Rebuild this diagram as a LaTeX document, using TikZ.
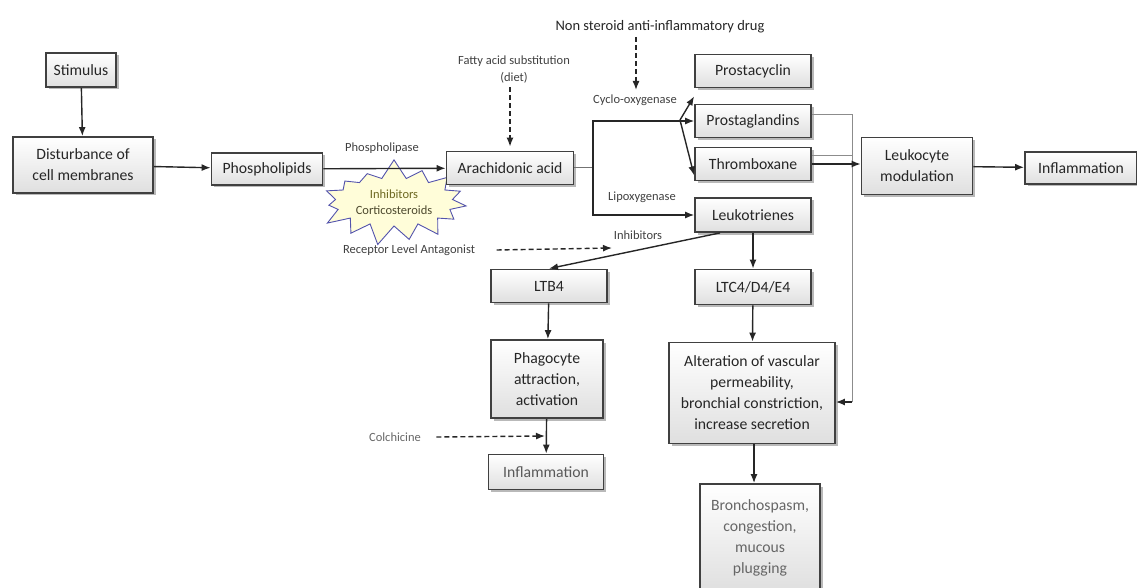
\documentclass[tikz,border=0pt]{standalone}
\usepackage{fontspec}
\setmainfont{Carlito}
\usetikzlibrary{arrows.meta,shadows,shapes.symbols}

\tikzset{
    box/.style={draw=black!75, line width=1.8pt, top color=white, bottom color=gray!25,
        drop shadow={shadow xshift=2.5pt, shadow yshift=-2.5pt, fill=black!55},
        align=center, inner sep=2pt, text=black!85, font=\fontsize{15.7}{21}\selectfont},
    lbl/.style={font=\fontsize{12.5}{17}\selectfont, text=black!75, align=center},
    arr/.style={-{Latex[length=9pt,width=7pt]}, line width=1.4pt, black!85},
    darr/.style={-{Latex[length=9pt,width=7pt]}, line width=1.4pt, dash pattern=on 5pt off 3pt, black!85},
    gline/.style={line width=1pt, black!45}
}

\begin{document}
\begin{tikzpicture}[x=1pt,y=1pt]
    \useasboundingbox (0,0) rectangle (1137,-588);

    % inhibitor star
    \node[starburst, draw=blue!35!gray, fill=yellow!15, line width=0.9pt,
          minimum width=126pt, minimum height=88pt, starburst point height=20pt,
          starburst points=15, random starburst=7,
          align=center, font=\fontsize{12.5}{16}\selectfont] (star) at (394,-202)
          {\textcolor{olive!70!black}{Inhibitors}\\\textcolor{olive!40!black}{Corticosteroids}};

    \node[box, minimum width=70pt, minimum height=34pt] (stim) at (81,-70) {Stimulus};
    \node[box, minimum width=140pt, minimum height=56pt] (dist) at (83,-165) {Disturbance of\\cell membranes};
    \node[box, minimum width=111pt, minimum height=32pt] (phos) at (267,-169) {Phospholipids};
    \node[box, minimum width=127pt, minimum height=33pt] (arach) at (510,-168) {Arachidonic acid};

    \node[box, minimum width=116pt, minimum height=33pt] (pcyc) at (753,-71) {Prostacyclin};
    \node[box, minimum width=116pt, minimum height=33pt] (pgl) at (753,-121) {Prostaglandins};
    \node[box, minimum width=116pt, minimum height=33pt] (tbx) at (753,-164) {Thromboxane};
    \node[box, minimum width=116pt, minimum height=34pt] (leuk) at (753,-215) {Leukotrienes};

    \node[box, minimum width=111pt, minimum height=57pt] (leukmod) at (917,-166) {Leukocyte\\modulation};
    \node[box, minimum width=112pt, minimum height=32pt] (infl) at (1081,-168) {Inflammation};

    \node[box, minimum width=116pt, minimum height=33pt] (ltb) at (549,-286) {LTB4};
    \node[box, minimum width=116pt, minimum height=35pt] (ltc) at (753,-287) {LTC4/D4/E4};
    \node[box, minimum width=112pt, minimum height=78pt] (phago) at (547,-379) {Phagocyte\\attraction,\\activation};
    \node[box, minimum width=115pt, minimum height=35pt, text=black!65] (infltwo) at (546,-472) {Inflammation};
    \node[box, minimum width=166pt, minimum height=101pt] (alter) at (752,-393) {Alteration of vascular\\permeability,\\bronchial constriction,\\increase secretion};
    \node[box, minimum width=120pt, minimum height=108pt, text=black!60] (broncho) at (760,-538) {Bronchospasm,\\congestion,\\mucous\\plugging};

    % labels
    \node[lbl] (plase) at (382,-148) {Phospholipase};
    \node[lbl] (diet) at (514,-70) {Fatty acid substitution\\(diet)};
    \node[font=\fontsize{14.5}{17}\selectfont, text=black!85] (nsaid) at (660,-27) {Non steroid anti-inflammatory drug};
    \node[lbl] (cox) at (635,-100) {Cyclo-oxygenase};
    \node[lbl] (lox) at (642,-197) {Lipoxygenase};
    \node[lbl] (inhib) at (638,-235) {Inhibitors};
    \node[lbl] (rla) at (409,-250) {Receptor Level Antagonist};
    \node[lbl, text=black!60] (colch) at (395,-437) {Colchicine};

    \coordinate (split) at (593,-168);
    \coordinate (branch) at (680,-120);
    \coordinate (coxin) at (636,-90);
    \coordinate (rlain) at (612,-248);
    \coordinate (colchin) at (545,-436);
    \coordinate (gcorner) at (852,-402);

    % main chain
    \draw[arr] (stim) -- (dist);
    \draw[arr] (dist) -- (phos);
    \draw[arr] (phos) -- (arach);
    \draw[darr] (diet.south -| arach.north) -- ([yshift=4pt]arach.north);
    \draw[darr] (nsaid.south -| coxin) -- (coxin);

    % cyclo-oxygenase / lipoxygenase split
    \draw[line width=1pt, black!55] (arach.east) -- (split);
    \draw[arr, line width=1.1pt] (split) |- (pgl.west);
    \draw[arr] (branch) -- ([yshift=-8pt]pcyc.south west);
    \draw[arr] (branch) -- ([yshift=6pt]tbx.south west);
    \draw[arr, line width=1.1pt] (split) |- (leuk.west);

    % to leukocyte modulation and alteration
    \draw[gline] ([yshift=6pt]pgl.east) -| (gcorner);
    \draw[gline] ([yshift=8pt]tbx.east) -- (852,-156);
    \draw[arr] (gcorner) -- (gcorner -| alter.east);
    \draw[arr] (tbx.east) -- (leukmod.west |- tbx.east);
    \draw[arr] (leukmod) -- (infl);

    % leukotriene branches
    \draw[arr] ([xshift=-33pt]leuk.south) -- (ltb.north);
    \draw[darr] ([xshift=18pt]rla.east) -- (rlain);
    \draw[arr] (leuk) -- (ltc);
    \draw[arr] (ltb) -- (phago);
    \draw[arr] (phago) -- (infltwo);
    \draw[darr] ([xshift=12pt]colch.east) -- (colchin);
    \draw[arr] (ltc) -- (alter);
    \draw[arr] ([xshift=2pt]alter.south) -- ([xshift=-6pt]broncho.north);
\end{tikzpicture}
\end{document}
